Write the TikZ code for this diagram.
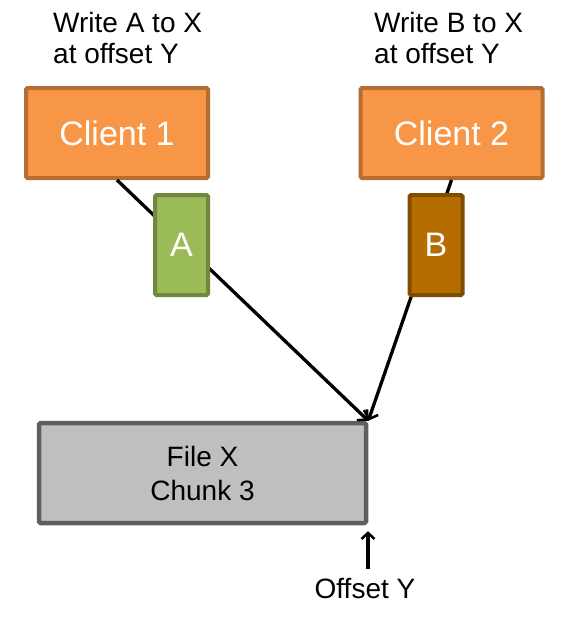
\documentclass[tikz,border=0pt]{standalone}
\usepackage{fontspec}
\setmainfont{Liberation Sans}
\usepackage{tikz}
\usetikzlibrary{positioning,arrows.meta}
\definecolor{clientfill}{HTML}{F79646}
\definecolor{clientline}{HTML}{B66D31}
\definecolor{afill}{HTML}{9BBB59}
\definecolor{aline}{HTML}{71893F}
\definecolor{bfill}{HTML}{B56D00}
\definecolor{bline}{HTML}{7F4C00}
\definecolor{chunkfill}{HTML}{BFBFBF}
\definecolor{chunkline}{HTML}{5F5F5F}
\begin{document}
\begin{tikzpicture}[x=1pt,y=-1pt,
    client/.style={rounded corners=1.5pt,line width=4pt,draw=clientline,fill=clientfill,text=white,minimum width=182pt,minimum height=90pt,font=\fontsize{34}{40}\selectfont},
    datablock/.style={rounded corners=1.5pt,line width=4pt,text=white,minimum width=53pt,minimum height=100pt,inner sep=0pt,font=\fontsize{34}{40}\selectfont},
    note/.style={align=left,inner sep=0pt,anchor=base west,font=\fontsize{28}{31}\selectfont},
    wire/.style={line width=3.3pt,-{Straight Barb[length=7pt,width=15pt,line width=2.5pt]}}]
  \useasboundingbox (0,0) rectangle (573,624);
  \node[note](wa) at (53,63){Write A to X\\at offset Y};
  \node[note](wb) at (374,63){Write B to X\\at offset Y};
  \node[client](c1) at (117,133){Client 1};
  \node[client](c2) at (451.5,133){Client 2};
  \node[rounded corners=1.5pt,line width=4.5pt,draw=chunkline,fill=chunkfill,minimum width=327pt,minimum height=100pt,align=center,font=\fontsize{28}{34}\selectfont](file) at (202.5,473){File X\\Chunk 3};
  \draw[wire](c1.south) -- (file.north east);
  \draw[wire](c2.south) -- (file.north east);
  \node[datablock,draw=aline,fill=afill](a) at (181.5,245){A};
  \node[datablock,draw=bline,fill=bfill](b) at (436,245){B};
  \node[inner sep=0pt,font=\fontsize{28}{34}\selectfont](off) at (365,588){Offset Y};
  \draw[line width=3.3pt,-{Straight Barb[length=6pt,width=13pt,line width=2.5pt]},shorten >=6pt](off.north) ++(3,-9) coordinate(tail) (tail) -- (tail |- file.south east);
\end{tikzpicture}
\end{document}
